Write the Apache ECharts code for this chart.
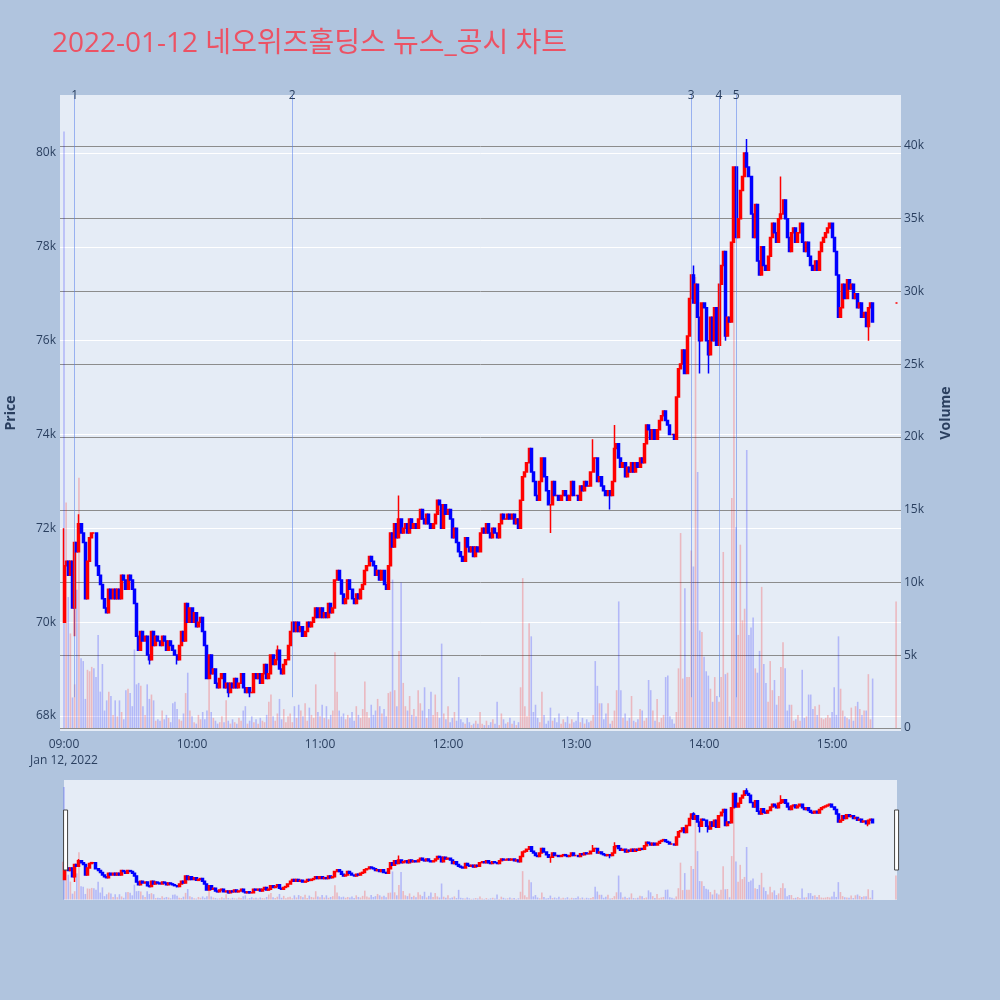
<!DOCTYPE html>
<html>
<head>
<meta charset="utf-8">
<title>2022-01-12 네오위즈홀딩스 뉴스_공시 차트</title>
<script src="https://cdn.jsdelivr.net/npm/echarts@6/dist/echarts.min.js"></script>
<style>
  html, body { margin: 0; padding: 0; background: #B0C4DE; }
  #main { width: 1000px; height: 1000px; }
</style>
</head>
<body>
<div id="main"></div>
<script>
// 1분봉, 09:00 부터 연속
const sessionStart = '09:00';
const firstOpen = 70000;
const closes = [
  71200, 71300, 71000, 71300, 70300, 71700, 71500, 72100, 71900, 71700,
  70500, 71300, 71800, 71900, 71900, 71200, 71000, 70800, 70500, 70300,
  70200, 70700, 70500, 70700, 70500, 70700, 70500, 71000, 70900, 70700,
  71000, 70900, 70700, 70400, 69700, 69400, 69800, 69600, 69700, 69300,
  69200, 69800, 69500, 69700, 69600, 69500, 69700, 69600, 69400, 69600,
  69500, 69400, 69300, 69200, 69500, 69800, 69600, 70400, 70000, 70300,
  70000, 70200, 69900, 70000, 70100, 69800, 69500, 68800, 69300, 68900,
  69000, 68700, 68600, 68800, 68900, 68600, 68700, 68500, 68700, 68600,
  68800, 68600, 68700, 68900, 68600, 68500, 68600, 68500, 68500, 68900,
  68800, 68900, 68700, 68900, 69100, 68800, 68900, 69300, 69100, 69200,
  69400, 69000, 68900, 69100, 69200, 69500, 69800, 70000, 69800, 70000,
  69800, 69900, 69700, 69800, 70000, 69900, 70000, 70100, 70300, 70100,
  70300, 70100, 70200, 70100, 70400, 70200, 70300, 70900, 71100, 70900,
  70600, 70400, 70500, 70900, 70700, 70500, 70400, 70600, 70500, 70700,
  70800, 71100, 71200, 71400, 71300, 71200, 71000, 71100, 70900, 71100,
  70800, 70700, 71200, 71900, 71600, 72100, 71800, 72200, 71900, 72000,
  72100, 71900, 72200, 72000, 72100, 72000, 72200, 72400, 72200, 72100,
  72300, 72100, 72000, 72100, 72300, 72600, 72500, 72000, 72500, 72300,
  72400, 72200, 71800, 72000, 71700, 71500, 71400, 71300, 71800, 71600,
  71500, 71600, 71400, 71600, 71500, 71900, 72000, 71900, 72100, 71900,
  71800, 72000, 71900, 71800, 72100, 72300, 72200, 72200, 72300, 72200,
  72300, 72100, 72200, 72000, 72600, 73100, 73200, 73400, 73700, 73200,
  73000, 72700, 72600, 73000, 73500, 73100, 72800, 72500, 72500, 73000,
  72700, 72700, 72600, 72700, 72800, 72700, 72600, 72700, 73000, 72700,
  72700, 72600, 72900, 72800, 73000, 72900, 72900, 73200, 73500, 73500,
  73000, 73100, 72900, 72800, 72700, 72800, 72700, 73000, 73700, 73800,
  73500, 73300, 73400, 73100, 73300, 73200, 73400, 73200, 73400, 73300,
  73500, 73400, 73800, 74200, 74100, 73900, 74100, 73900, 74100, 74300,
  74400, 74500, 74300, 74200, 74000, 74000, 73900, 74800, 75400, 75500,
  75800, 75300, 76100, 76900, 77400, 76800, 77200, 76500, 76000, 76800,
  76700, 76000, 75700, 76500, 76000, 76700, 75900, 77200, 77600, 77900,
  76100, 76500, 76400, 78100, 79700, 78200, 78600, 79200, 79500, 80000,
  79700, 79500, 78700, 78200, 78900, 77700, 77400, 78000, 77600, 77500,
  77800, 78200, 78500, 78300, 78100, 78600, 78700, 79000, 78600, 78200,
  77900, 78300, 78400, 78100, 78300, 78500, 78100, 77900, 78100, 77800,
  77600, 77500, 77700, 77500, 77900, 78100, 78200, 78300, 78400, 78500,
  78200, 77900, 77400, 76500, 76700, 77200, 76900, 77300, 77100, 77200,
  76900, 77000, 76700, 76800, 76500, 76600, 76300, 76700, 76800, 76400
];
const volumes = [
  41000, 15500, 9000, 6500, 2100, 3000, 9500, 17200, 4800, 4600,
  2000, 4000, 3900, 4200, 4100, 3500, 6400, 2500, 4400, 1200,
  1900, 2500, 2200, 900, 1900, 800, 1900, 1100, 600, 2600,
  2700, 2400, 1500, 5400, 3000, 3100, 2900, 1500, 900, 3000,
  2000, 2300, 1900, 500, 600, 500, 1200, 600, 900, 700,
  400, 1700, 1800, 1300, 600, 500, 1000, 2400, 3800, 1200,
  800, 400, 300, 900, 600, 1100, 600, 1200, 3500, 1100,
  700, 500, 300, 400, 800, 400, 1900, 500, 300, 600,
  400, 300, 700, 500, 1200, 1500, 300, 500, 800, 400,
  600, 300, 700, 500, 400, 900, 1800, 2300, 800, 500,
  1000, 2000, 600, 1300, 400, 800, 1000, 400, 1500, 700,
  1600, 1200, 800, 1700, 500, 1400, 900, 700, 3000, 1100,
  800, 1600, 700, 1500, 600, 900, 1200, 5200, 2500, 1200,
  800, 1000, 600, 900, 700, 1100, 500, 1500, 900, 700,
  1300, 3200, 1100, 700, 1600, 900, 1200, 2000, 1500, 1000,
  1300, 800, 2400, 2500, 10200, 2600, 1500, 5300, 10000, 3100,
  1500, 1200, 2200, 900, 1300, 800, 2600, 1700, 1200, 2800,
  700, 1300, 2500, 900, 2300, 1100, 700, 5800, 1000, 600,
  1500, 400, 700, 1100, 500, 3500, 600, 400, 300, 700,
  400, 200, 300, 500, 300, 1100, 300, 200, 500, 200,
  400, 600, 300, 1800, 200, 1000, 600, 300, 400, 700,
  300, 500, 200, 400, 2800, 10300, 1500, 800, 7200, 6300,
  1100, 1600, 700, 400, 2500, 900, 300, 500, 1400, 500,
  700, 400, 1000, 300, 600, 400, 800, 300, 600, 400,
  500, 1100, 400, 700, 300, 600, 400, 500, 900, 4600,
  2900, 1700, 1700, 600, 1000, 1700, 300, 500, 1200, 2600,
  8700, 2600, 700, 1000, 500, 700, 2200, 500, 400, 600,
  1300, 1200, 500, 700, 3300, 2600, 1200, 500, 2000, 400,
  700, 900, 3500, 3600, 800, 600, 300, 1100, 4100, 13400,
  3400, 9600, 3500, 3500, 12200, 11100, 31000, 17600, 6700, 6600,
  4900, 3900, 3600, 2700, 1800, 3500, 2200, 1800, 3500, 12100,
  3700, 3800, 800, 15800, 38000, 13800, 6400, 12600, 7400, 8200,
  19100, 6400, 6900, 7600, 4100, 3800, 5300, 9700, 4400, 3100,
  1800, 4600, 2600, 3300, 1600, 2200, 4200, 5900, 4100, 1200,
  1600, 1600, 500, 600, 900, 500, 4000, 700, 800, 2300,
  2300, 1300, 1500, 900, 1600, 700, 600, 700, 900, 700,
  1100, 2800, 900, 6300, 2700, 1200, 800, 700, 600, 1400,
  500, 1500, 1800, 1300, 900, 1200, 1200, 3700, 600, 3400
];
// 몸통 밖으로 나온 꼬리: [분, 저가, 고가]
const wicks = [
  [0, 70000, 72000], [5, 69700, null], [7, null, 72300], [40, 69100, null],
  [53, 69100, null], [77, 68400, null], [87, 68400, null], [100, null, 69500],
  [157, null, 72700], [228, 71900, null], [248, null, 73900], [256, 72400, null],
  [258, null, 74200], [295, null, 77600], [298, 75300, null], [302, 75300, null],
  [310, 76000, null], [320, null, 80300], [336, null, 79500], [377, 76000, null]
];
// 종가 단일가
const auctionTime = '15:30';
const auctionPrice = 76800;
const auctionVolume = 8700;
// 뉴스/공시 시각
const newsTimes = ['09:05', '10:47', '13:54', '14:07', '14:15'];
const newsLabels = ['1', '2', '3', '4', '5'];
const newsLow = 68400;
const hourTicks = ['09:00', '10:00', '11:00', '12:00', '13:00', '14:00', '15:00'];
const dateLabel = 'Jan 12, 2022';

const FONT = '"Open Sans", "Noto Sans CJK KR", sans-serif';
const TXT = '#2a3f5f';
const UP = '#ff0000', DOWN = '#0000ff';
const VOL_UP = 'rgba(255,0,0,0.22)', VOL_DOWN = 'rgba(0,0,255,0.22)';

function toMin(t) {
  const p = t.split(':').map(Number);
  const s = sessionStart.split(':').map(Number);
  return p[0] * 60 + p[1] - (s[0] * 60 + s[1]);
}
function fmtTime(v) {
  const s = sessionStart.split(':').map(Number);
  const t = s[0] * 60 + s[1] + Math.round(v);
  const h = Math.floor(t / 60), m = t % 60;
  return (h < 10 ? '0' : '') + h + ':' + (m < 10 ? '0' : '') + m;
}

const wickMap = {};
wicks.forEach(w => { wickMap[w[0]] = w; });

const candles = [];
const vols = [];
closes.forEach((c, i) => {
  const o = i === 0 ? firstOpen : closes[i - 1];
  let lo = Math.min(o, c), hi = Math.max(o, c);
  const w = wickMap[i];
  if (w) {
    if (w[1] != null) lo = w[1];
    if (w[2] != null) hi = w[2];
  }
  candles.push([i, o, c, lo, hi]);
  const up = i > 0 && c > closes[i - 1];
  vols.push({ value: [i, volumes[i]], itemStyle: { color: up ? VOL_UP : VOL_DOWN } });
});
const am = toMin(auctionTime);
candles.push([am, auctionPrice, auctionPrice, auctionPrice, auctionPrice]);
vols.push({
  value: [am, auctionVolume],
  itemStyle: { color: auctionPrice > closes[closes.length - 1] ? VOL_UP : VOL_DOWN }
});

const P_MIN = 67680, P_MAX = 81236;
const V_MIN = -206, V_MAX = 43505;

const newsLines = newsTimes.map((t, k) => [
  { name: newsLabels[k], coord: [toMin(t), newsLow] },
  { coord: [toMin(t), P_MAX] }
]);

const candleStyle = {
  color: UP, color0: DOWN, borderColor: UP, borderColor0: DOWN, borderWidth: 1.5
};

const chart = echarts.init(document.getElementById('main'));
chart.setOption({
  backgroundColor: '#B0C4DE',
  animation: false,
  textStyle: { fontFamily: FONT },
  title: {
    text: '2022-01-12 네오위즈홀딩스 뉴스_공시 차트',
    left: 47, top: 25,
    textStyle: { color: '#EC5264', fontSize: 28, fontWeight: 'normal', fontFamily: FONT }
  },
  grid: [
    { left: 60, right: 99, top: 95, bottom: 269, show: true, backgroundColor: '#E5ECF6', borderWidth: 0, containLabel: false, outerBoundsMode: 'none' },
    { left: 64, right: 103, top: 780, height: 120, show: true, backgroundColor: '#E5ECF6', borderWidth: 0, containLabel: false, outerBoundsMode: 'none' }
  ],
  xAxis: [
    {
      type: 'value', gridIndex: 0, min: -1.875, max: 392.3,
      axisLine: { show: false }, axisTick: { show: false }, splitLine: { show: false },
      axisLabel: {
        customValues: hourTicks.map(toMin),
        formatter: v => (Math.round(v) === 0 ? fmtTime(v) + '\n' + dateLabel : fmtTime(v)),
        color: TXT, fontSize: 12, margin: 6, lineHeight: 16, fontFamily: FONT
      }
    },
    { type: 'value', gridIndex: 1, min: 0, max: 390.5, show: false }
  ],
  yAxis: [
    {
      type: 'value', gridIndex: 0, position: 'left', min: P_MIN, max: P_MAX, splitNumber: 7,
      name: 'Price', nameLocation: 'middle', nameGap: 42, nameRotate: 90,
      nameTextStyle: { color: TXT, fontSize: 14, fontWeight: 'bold', fontFamily: FONT },
      axisLine: { show: false }, axisTick: { show: false },
      axisLabel: {
        showMinLabel: false, showMaxLabel: false, color: TXT, fontSize: 12, margin: 4,
        fontFamily: FONT, formatter: v => v / 1000 + 'k'
      },
      splitLine: { showMinLine: false, showMaxLine: false, lineStyle: { color: '#ffffff', width: 1 } }
    },
    {
      type: 'value', gridIndex: 0, position: 'right', min: V_MIN, max: V_MAX, splitNumber: 9,
      name: 'Volume', nameLocation: 'middle', nameGap: 38, nameRotate: 90,
      nameTextStyle: { color: TXT, fontSize: 14, fontWeight: 'bold', fontFamily: FONT },
      axisLine: { show: false }, axisTick: { show: false },
      axisLabel: {
        showMinLabel: false, showMaxLabel: false, color: TXT, fontSize: 12, margin: 3,
        fontFamily: FONT, formatter: v => (v === 0 ? '0' : v / 1000 + 'k')
      },
      splitLine: { showMinLine: false, showMaxLine: false, lineStyle: { color: '#8c8c8c', width: 1 } }
    },
    { type: 'value', gridIndex: 1, min: P_MIN, max: P_MAX, show: false },
    { type: 'value', gridIndex: 1, min: V_MIN, max: V_MAX, show: false }
  ],
  dataZoom: [{
    type: 'slider', xAxisIndex: 1, filterMode: 'none', start: 0, end: 100,
    left: 64, right: 103, top: 780, height: 120,
    backgroundColor: 'rgba(0,0,0,0)', borderColor: 'rgba(0,0,0,0)', fillerColor: 'rgba(0,0,0,0)',
    showDataShadow: false, showDetail: false, brushSelect: false, moveHandleSize: 0,
    dataBackground: { lineStyle: { opacity: 0 }, areaStyle: { opacity: 0 } },
    selectedDataBackground: { lineStyle: { opacity: 0 }, areaStyle: { opacity: 0 } },
    handleIcon: 'path://M0,0H4V60H0Z', handleSize: '50%',
    handleStyle: { color: '#ffffff', borderColor: '#444444', borderWidth: 1 },
    emphasis: { handleStyle: { color: '#ffffff', borderColor: '#444444', borderWidth: 1 } }
  }],
  series: [
    {
      type: 'candlestick', xAxisIndex: 0, yAxisIndex: 0, data: candles,
      encode: { x: 0, y: [1, 2, 3, 4] }, barWidth: 2.5, itemStyle: candleStyle, clip: false,
      markLine: {
        silent: true, symbol: ['none', 'none'], animation: false,
        lineStyle: { color: 'rgba(90,130,235,0.55)', width: 1, type: 'solid' },
        label: { show: true, position: 'end', distance: -7, formatter: '{b}', color: TXT, fontSize: 12, fontFamily: FONT },
        data: newsLines
      }
    },
    {
      type: 'bar', xAxisIndex: 0, yAxisIndex: 1, data: vols, barWidth: 1.6,
      encode: { x: 0, y: 1 }
    },
    {
      type: 'candlestick', xAxisIndex: 1, yAxisIndex: 2, data: candles,
      encode: { x: 0, y: [1, 2, 3, 4] }, barWidth: 2.5, itemStyle: candleStyle
    },
    {
      type: 'bar', xAxisIndex: 1, yAxisIndex: 3, data: vols, barWidth: 1.6,
      encode: { x: 0, y: 1 }
    }
  ]
});
</script>
</body>
</html>
